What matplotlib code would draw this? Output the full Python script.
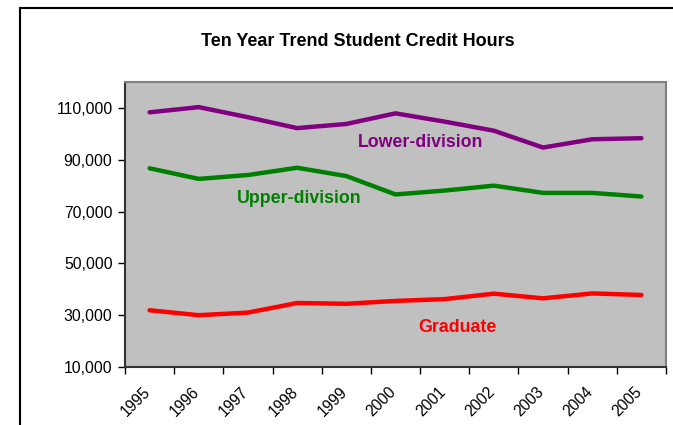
import matplotlib
matplotlib.use("Agg")
import matplotlib.pyplot as plt
from matplotlib.lines import Line2D
from matplotlib.ticker import FuncFormatter

plt.rcParams['font.family'] = ['Liberation Sans', 'DejaVu Sans']

years = ["1995", "1996", "1997", "1998", "1999", "2000", "2001", "2002", "2003", "2004", "2005"]
lower_division = [108300, 110300, 106400, 102200, 103800, 107900, 104700, 101200, 94700, 97900, 98300]
upper_division = [86700, 82600, 84100, 86900, 83700, 76600, 78100, 80000, 77200, 77200, 75800]
graduate = [31900, 30000, 31000, 34700, 34400, 35500, 36200, 38300, 36500, 38400, 37800]
yticks = [10000, 30000, 50000, 70000, 90000, 110000]

fig = plt.figure(figsize=(6.73, 4.25), dpi=100)
ax = fig.add_axes([125/673, 1-367/425, (666-125)/673, (367-82)/425])
ax.set_facecolor('#C0C0C0')

x = list(range(len(years)))
ax.plot(x, lower_division, color='#800080', lw=3.2, solid_capstyle='round', solid_joinstyle='round')
ax.plot(x, upper_division, color='#008000', lw=3.2, solid_capstyle='round', solid_joinstyle='round')
ax.plot(x, graduate, color='#FF0000', lw=3.2, solid_capstyle='round', solid_joinstyle='round')

ax.set_xlim(-0.5, len(years) - 0.5)
ax.set_ylim(10000, 120000)
ax.set_yticks(yticks)
ax.yaxis.set_major_formatter(FuncFormatter(lambda v, p: f"{int(v):,}"))
ax.tick_params(axis='y', labelsize=11.3, length=5, width=1, direction='out', pad=4)

label_shift = 0.14
ax.set_xticks([i - 0.5 for i in range(len(years) + 1)], minor=False)
ax.set_xticklabels([])
ax.set_xticks([i - label_shift for i in x], minor=True)
ax.set_xticklabels(years, minor=True, rotation=45, ha='right', va='top', rotation_mode='anchor', fontsize=11.2)
ax.tick_params(axis='x', which='major', length=5, width=1, direction='out')
ax.tick_params(axis='x', which='minor', length=0, pad=12.5)

for s in ['top', 'right']:
    ax.spines[s].set_color('#808080')
    ax.spines[s].set_linewidth(1.5)
for s in ['left', 'bottom']:
    ax.spines[s].set_color('#333333')
    ax.spines[s].set_linewidth(1.5)

ax.text(5.5, 96500, "Lower-division", color='#800080', fontsize=12.8, fontweight='bold', ha='center', va='center')
ax.text(3.04, 75100, "Upper-division", color='#008000', fontsize=12.8, fontweight='bold', ha='center', va='center')
ax.text(6.25, 25400, "Graduate", color='#FF0000', fontsize=12.8, fontweight='bold', ha='center', va='center')

fig.text(358/673, 1-41/425, "Ten Year Trend Student Credit Hours", fontsize=13, fontweight='bold', ha='center', va='center')

fig.add_artist(Line2D([20/673, 1.0], [1-8/425, 1-8/425], transform=fig.transFigure, color='black', lw=1.5))
fig.add_artist(Line2D([20/673, 20/673], [1-8/425, 0.0], transform=fig.transFigure, color='black', lw=1.5))

fig.savefig("out.png", dpi=100)
